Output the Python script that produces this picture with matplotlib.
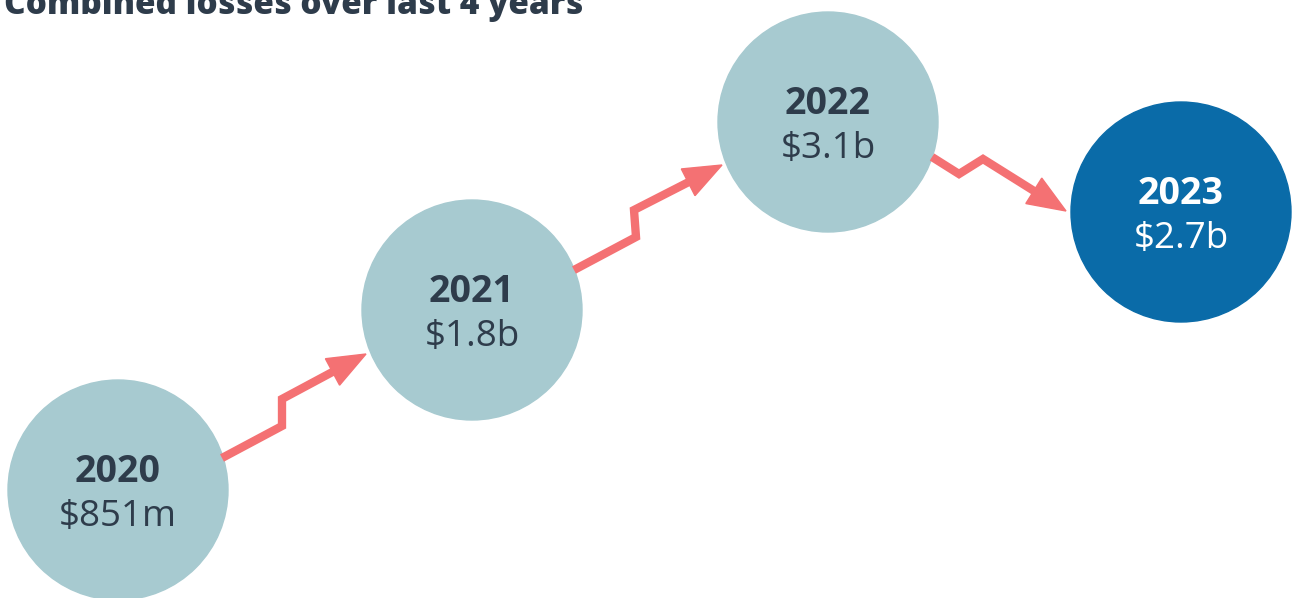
import matplotlib.pyplot as plt
from matplotlib.patches import Circle, Polygon
import numpy as np

years = ["2020", "2021", "2022", "2023"]
losses = ["$851m", "$1.8b", "$3.1b", "$2.7b"]

# layout (pixels, y down)
centers = [(118, 490), (472, 310), (828, 122), (1181, 212)]
radius = 110
fills = ["#a7cad0", "#a7cad0", "#a7cad0", "#0a6ba8"]
txt_cols = ["#2e3c4b", "#2e3c4b", "#2e3c4b", "white"]

# zigzag arrow paths, last point is the arrow tip
arrows = [
    [(222, 458), (282, 426), (282, 399), (366, 354)],
    [(574, 270), (636, 237), (634, 210), (722, 165)],
    [(932, 157), (959, 174), (983, 159), (1066, 211)],
]
red = "#f47173"

plt.rcParams['font.family'] = ['Open Sans', 'DejaVu Sans']

fig = plt.figure(figsize=(12.93, 5.98), dpi=100)
ax = fig.add_axes([0, 0, 1, 1])
ax.set_xlim(0, 1293)
ax.set_ylim(598, 0)
ax.axis('off')

for (cx, cy), fc, tc, yr, val in zip(centers, fills, txt_cols, years, losses):
    ax.add_patch(Circle((cx, cy), radius, color=fc, zorder=1))
    ax.text(cx, cy - 18, yr, ha='center', va='center', fontsize=27,
            fontweight='bold', color=tc, zorder=3)
    ax.text(cx, cy + 27, val, ha='center', va='center', fontsize=26.5,
            color=tc, zorder=3)

head_len, head_w = 38, 30
for pts in arrows:
    pts = np.array(pts, dtype=float)
    tip = pts[-1]
    d = tip - pts[-2]
    d = d / np.hypot(*d)
    n = np.array([-d[1], d[0]])
    base = tip - d * head_len
    line = np.vstack([pts[:-1], base + d * 2])
    ax.plot(line[:, 0], line[:, 1], color=red, lw=6, solid_joinstyle='miter',
            solid_capstyle='butt', zorder=2)
    ax.add_patch(Polygon([tip, base + n * head_w / 2, base - n * head_w / 2],
                         closed=True, color=red, zorder=2))

ax.text(4, 14, "Combined losses over last 4 years", ha='left', va='baseline',
        fontsize=24, fontweight='heavy', color="#2e3c4b")

fig.savefig("out.png", dpi=100)
